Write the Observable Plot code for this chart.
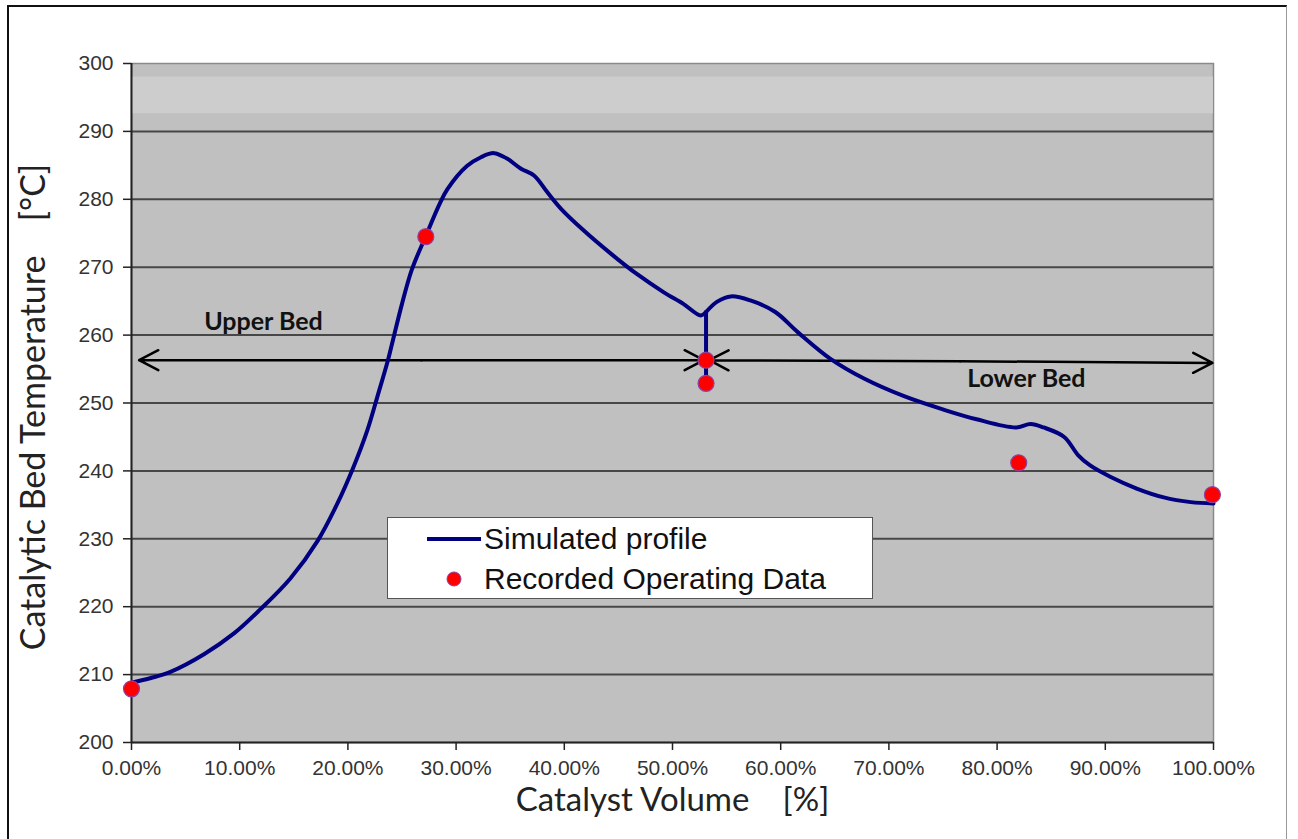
<!DOCTYPE html>
<html>
<head>
<meta charset="utf-8">
<script src="https://cdn.jsdelivr.net/npm/d3@7"></script>
<script src="https://cdn.jsdelivr.net/npm/@observablehq/plot@0.6"></script>
<style>
  html, body { margin: 0; padding: 0; background: #fff; }
  #wrap { position: relative; width: 1298px; height: 839px; overflow: hidden; }
  #border { position: absolute; left: 7px; top: 5px; width: 1280px; height: 900px;
            border-left: 2px solid #111; border-top: 2px solid #111; border-right: 1.5px solid #999; box-sizing: border-box; }
  #legend { position: absolute; left: 387px; top: 517px; width: 486px; height: 82px; box-sizing: border-box;
            background: #fff; border: 1.5px solid #555; font-family: "Liberation Sans", Arial, sans-serif; font-size: 30px; color: #111; }
  .row { position: absolute; left: 0; height: 40px; display: flex; align-items: center; }
  .sw { width: 96px; height: 40px; position: relative; }
  svg { display: block; }
</style>
</head>
<body>
<div id="wrap">
  <div id="chart"></div>
  <div id="border"></div>
  <div id="legend"></div>
</div>
<script>
// Simulated temperature profile along catalyst volume [%] -> [°C]
// profileSegment: 0 = upper bed curve, 1 = vertical drop at the bed change, 2 = lower bed curve
const profileX = [0, 1.8, 3.6, 6.7, 9.5, 11.9, 14.7, 17.2, 19.0, 20.5, 21.8, 22.7, 23.7, 24.2, 25.0, 25.9, 27.2, 28.5, 29.2, 31.0, 32.3, 33.5, 34.7, 36.0, 37.2, 38.4, 39.7, 41.8, 44.3, 46.7, 49.2, 51.0, 52.6, 53.1,
                  53.1, 53.1,
                  53.1, 54.1, 55.4, 57.2, 59.5, 61.6, 64.6, 67.7, 71.4, 75.1, 78.1, 81.7, 83.1, 84.3, 86.2, 87.5, 88.6, 90.5, 92.9, 95.4, 97.9, 100];
const profileT = [208.8, 209.5, 210.4, 213.0, 216.1, 219.6, 224.2, 229.7, 235.1, 240.5, 246.0, 250.8, 256.3, 259.5, 264.6, 269.6, 274.6, 279.4, 281.5, 284.9, 286.2, 286.8, 286.0, 284.5, 283.5, 281.1, 278.6, 275.4, 272.0, 269.0, 266.3, 264.6, 262.9, 263.4,
                  263.4, 253.4,
                  263.4, 264.9, 265.7, 265.1, 263.4, 260.4, 256.5, 253.6, 251.0, 249.0, 247.6, 246.4, 246.9, 246.4, 245.0, 242.3, 240.8, 239.1, 237.4, 236.1, 235.4, 235.2];
const profileSegment = [0,0,0,0,0,0,0,0,0,0,0,0,0,0,0,0,0,0,0,0,0,0,0,0,0,0,0,0,0,0,0,0,0,0,
                        1,1,
                        2,2,2,2,2,2,2,2,2,2,2,2,2,2,2,2,2,2,2,2,2,2];

// Recorded operating data
const recordedX = [0, 27.2, 53.1, 53.1, 82.0, 99.9];
const recordedT = [207.9, 274.5, 256.3, 252.9, 241.2, 236.5];

// Bed span arrows (drawn from the middle outward)
const arrowFromX = [26.8, 26.8, 76.6, 76.6];
const arrowToX   = [0.7, 52.9, 53.4, 99.9];
const arrowFromY = [256.3, 256.3, 256.15, 256.15];
const arrowToY   = [256.3, 256.3, 256.3, 255.9];

// Bed labels
const bedLabels = ["Upper Bed", "Lower Bed"];
const bedLabelX = [12.2, 82.7];
const bedLabelY = [261.9, 253.6];

// Axis ticks
const xTicks = [0, 10, 20, 30, 40, 50, 60, 70, 80, 90, 100];
const yTicks = [200, 210, 220, 230, 240, 250, 260, 270, 280, 290, 300];
const gridT  = [210, 220, 230, 240, 250, 260, 270, 280, 290];

// Light band near the top
const bandLow = [292.6];
const bandHigh = [298.0];

const profile = profileX.map((x, i) => ({x, t: profileT[i], seg: profileSegment[i]}));
const recorded = recordedX.map((x, i) => ({x, t: recordedT[i]}));
const arrows = arrowFromX.map((x, i) => ({x1: x, x2: arrowToX[i], y1: arrowFromY[i], y2: arrowToY[i]}));
const labels = bedLabels.map((s, i) => ({s, x: bedLabelX[i], y: bedLabelY[i]}));
const band = bandLow.map((lo, i) => ({lo, hi: bandHigh[i]}));

const chart = Plot.plot({
  width: 1298,
  height: 839,
  marginLeft: 131,
  marginRight: 85,
  marginTop: 63,
  marginBottom: 97,
  style: {fontFamily: "'Liberation Sans', Arial, sans-serif", fontSize: "21px", color: "#333", background: "transparent"},
  x: {domain: [0, 100]},
  y: {domain: [200, 300]},
  marks: [
    Plot.frame({fill: "#c0c0c0", stroke: "#8a8a8a", strokeWidth: 1.5}),
    Plot.rect(band, {x1: 0, x2: 100, y1: "lo", y2: "hi", fill: "#cdcdcd"}),
    Plot.ruleY(gridT, {stroke: "#474747", strokeWidth: 2}),
    Plot.ruleX([0], {stroke: "#222", strokeWidth: 2}),
    Plot.ruleY([200], {stroke: "#222", strokeWidth: 2}),
    Plot.axisX(xTicks, {tickSize: 8, tickPadding: 10, tickFormat: d => d.toFixed(2) + "%", label: null, stroke: "#222", strokeWidth: 1.5}),
    Plot.axisY(yTicks, {tickSize: 8, tickPadding: 10, label: null, stroke: "#222", strokeWidth: 1.5}),
    Plot.text(["Catalyst Volume\u2003 [%]"], {frameAnchor: "bottom", textAnchor: "middle", dy: 68, fontSize: 33, fontFamily: "Lato", fill: "#222"}),
    Plot.text(["Catalytic Bed Temperature\u2003 [°C]"], {frameAnchor: "left", textAnchor: "middle", dx: -97, dy: 4, rotate: -90, fontSize: 34, fontFamily: "Lato", fill: "#222"}),
    Plot.arrow(arrows, {x1: "x1", y1: "y1", x2: "x2", y2: "y2", stroke: "#000", strokeWidth: 2.5, headLength: 13, headAngle: 55}),
    Plot.text(labels, {x: "x", y: "y", text: "s", fontFamily: "Lato", fontWeight: "bold", fontSize: 25, fill: "#111"}),
    Plot.line(profile, {x: "x", y: "t", z: "seg", curve: "catmull-rom", stroke: "#000080", strokeWidth: 4, strokeLinejoin: "round", strokeLinecap: "round"}),
    Plot.dot(recorded, {x: "x", y: "t", r: 8, fill: "#ff0000", stroke: "#9040a0", strokeWidth: 1.2})
  ]
});
document.getElementById("chart").appendChild(chart);

// Legend (inside the plot area, as in the reference)
const legend = document.getElementById("legend");
const entries = [
  {label: "Simulated profile", type: "line"},
  {label: "Recorded Operating Data", type: "dot"}
];
entries.forEach((e, i) => {
  const row = document.createElement("div");
  row.className = "row";
  row.style.top = (i === 0 ? 1 : 41) + "px";
  const sw = document.createElement("div");
  sw.className = "sw";
  const s = document.createElementNS("http://www.w3.org/2000/svg", "svg");
  s.setAttribute("width", 96); s.setAttribute("height", 40);
  if (e.type === "line") {
    const l = document.createElementNS("http://www.w3.org/2000/svg", "line");
    l.setAttribute("x1", 39); l.setAttribute("x2", 93); l.setAttribute("y1", 20); l.setAttribute("y2", 20);
    l.setAttribute("stroke", "#000080"); l.setAttribute("stroke-width", 4);
    s.appendChild(l);
  } else {
    const c = document.createElementNS("http://www.w3.org/2000/svg", "circle");
    c.setAttribute("cx", 66); c.setAttribute("cy", 20); c.setAttribute("r", 7);
    c.setAttribute("fill", "#ff0000"); c.setAttribute("stroke", "#9040a0"); c.setAttribute("stroke-width", 1);
    s.appendChild(c);
  }
  sw.appendChild(s);
  const t = document.createElement("span");
  t.textContent = e.label;
  row.appendChild(sw); row.appendChild(t);
  legend.appendChild(row);
});
</script>
</body>
</html>
